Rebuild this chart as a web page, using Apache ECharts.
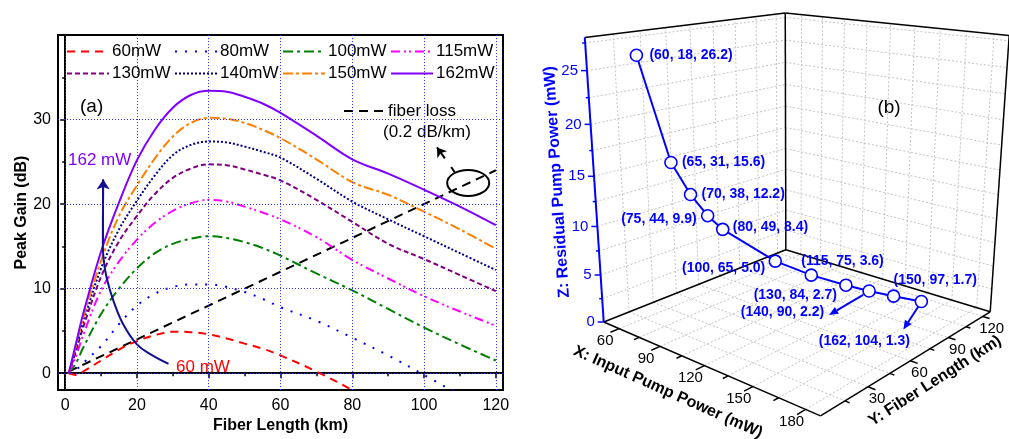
<!DOCTYPE html>
<html>
<head>
<meta charset="utf-8">
<script src="https://cdn.jsdelivr.net/npm/echarts@6/dist/echarts.min.js"></script>
<style>html,body{margin:0;padding:0;background:#fff}#main{width:1009px;height:439px}</style>
</head>
<body>
<div id="main"></div>
<script>
var FONT = '"Liberation Sans", Arial, sans-serif';

// (a) peak gain (dB) vs fiber length (km)
var km      = [1, 3, 5, 10, 15, 20, 25, 30, 35, 40, 45, 50, 55, 60, 70, 80, 90, 100, 110, 120];
var gain60  = [0, -0.2, 0.2, 1.5, 2.8, 3.8, 4.5, 4.9, 4.85, 4.6, 4.1, 3.5, 2.9, 2.1, 0.2, -2.0, -4.5, null, null, null];
var gain80  = [0, 0.4, 1.2, 3.2, 5.8, 8.0, 9.4, 10.2, 10.5, 10.5, 10.2, 9.6, 8.8, 7.8, 6.2, 4.2, 2.1, -0.2, -2.6, null];
var gain100 = [0, 1.2, 3.0, 7.0, 10.0, 12.4, 14.2, 15.3, 15.9, 16.2, 16.0, 15.5, 14.8, 13.9, 11.8, 9.8, 7.6, 5.4, 3.4, 1.5];
var gain115 = [0, 2.0, 4.5, 9.8, 13.2, 15.8, 17.8, 19.2, 20.1, 20.5, 20.3, 19.7, 19.0, 18.2, 16.1, 13.4, 11.2, 9.1, 7.3, 5.6];
var gain130 = [0, 2.6, 5.4, 11.4, 15.6, 18.6, 21.2, 23.1, 24.2, 24.7, 24.6, 24.1, 23.5, 22.8, 20.5, 17.9, 15.3, 13.5, 11.6, 9.7];
var gain140 = [0, 2.9, 6.0, 12.4, 17.0, 20.4, 23.4, 25.8, 27.0, 27.4, 27.3, 26.8, 26.2, 25.5, 23.0, 20.3, 18.2, 16.2, 14.2, 12.2];
var gain150 = [0, 3.2, 6.5, 13.3, 18.6, 22.2, 25.4, 28.0, 29.6, 30.2, 30.1, 29.6, 28.8, 27.8, 25.3, 22.6, 21.1, 19.1, 17.0, 14.7];
var gain162 = [0, 3.5, 7.0, 14.4, 20.2, 25.2, 28.8, 31.4, 32.9, 33.4, 33.3, 32.7, 31.9, 30.8, 28.1, 25.3, 23.6, 21.7, 19.7, 17.5];
var pumpNames = ['60mW', '80mW', '100mW', '115mW', '130mW', '140mW', '150mW', '162mW'];
var lossKm = [1, 120];
var lossDb = [0.2, 24];
var kmTicks = [0, 20, 40, 60, 80, 100, 120];
var kmMinor = [10, 30, 50, 70, 90, 110];
var dbTicks = [0, 10, 20, 30];
var dbMinor = [5, 15, 25, 35];
var arrowPath = [[28.8, 1.1], [23.7, 2.25], [20.0, 3.4], [16.2, 5.75], [13.5, 8.5], [11.6, 11.2], [10.7, 13.5], [10.5, 15.5], [10.6, 22.9]];

// (b) residual pump power
var xPump = [60, 65, 70, 75, 80, 100, 115, 130, 140, 150, 162];
var yLen  = [18, 31, 38, 44, 49, 65, 75, 84, 90, 97, 104];
var zRes  = [26.2, 15.6, 12.2, 9.9, 8.4, 5.0, 3.6, 2.7, 2.2, 1.7, 1.3];
var xTicks = [60, 90, 120, 150, 180];
var yTicks = [30, 60, 90, 120];
var zTicks = [0, 5, 10, 15, 20, 25];

var curveStyle = [
    {color: '#ff0000', type: [8, 6]},
    {color: '#0000ff', type: [2, 8]},
    {color: '#008000', type: [10, 4, 3, 4]},
    {color: '#ff00ff', type: [9, 4, 2, 3, 2, 4]},
    {color: '#800080', type: [5, 3]},
    {color: '#000080', type: [2, 2]},
    {color: '#ff8000', type: [10, 3, 3, 3]},
    {color: '#8000ff', type: 'solid'}
];

// ---- 3d box of panel (b): fit a camera to where box corners, z ticks and points sit in the picture
var xMin = 48, xMax = 188, yMin = 0, yMax = 127, zMin = 0, zMax = 28;
var fitPts = [
    [48, 0, 0, 603, 320], [188, 0, 0, 823, 413], [188, 127, 0, 993, 307], [48, 127, 0, 786, 245],
    [48, 0, 28, 584, 37], [48, 127, 28, 787, 14], [188, 127, 28, 1007, 33],
    [48, 0, 5, 600, 275], [48, 0, 10, 597, 226], [48, 0, 15, 594, 174], [48, 0, 20, 591, 123], [48, 0, 25, 587, 69]
];
var seenAt = [[637, 56], [672, 164], [691, 196], [708, 218], [722, 232], [775, 263], [810, 277], [846, 288], [868, 293], [893, 299], [920, 303]];
seenAt.forEach(function (s, i) { fitPts.push([xPump[i], yLen[i], zRes[i], s[0], s[1]]); });

function solveCamera(pts) {
    var A = [], b = [];
    pts.forEach(function (p) {
        var X = (p[0] - xMin) / (xMax - xMin), Y = (p[1] - yMin) / (yMax - yMin), Z = (p[2] - zMin) / (zMax - zMin);
        var s = (p[3] - 800) / 200, t = (p[4] - 200) / 200;
        A.push([X, Y, Z, 1, 0, 0, 0, 0, -s * X, -s * Y, -s * Z]); b.push(s);
        A.push([0, 0, 0, 0, X, Y, Z, 1, -t * X, -t * Y, -t * Z]); b.push(t);
    });
    var n = 11, M = [];
    for (var i = 0; i < n; i++) {
        M.push([]);
        for (var j = 0; j <= n; j++) {
            var s = 0;
            for (var k = 0; k < A.length; k++) s += A[k][i] * (j < n ? A[k][j] : b[k]);
            M[i].push(s);
        }
    }
    for (var c = 0; c < n; c++) {
        var piv = c;
        for (var r = c + 1; r < n; r++) if (Math.abs(M[r][c]) > Math.abs(M[piv][c])) piv = r;
        var tmp = M[c]; M[c] = M[piv]; M[piv] = tmp;
        for (var r2 = 0; r2 < n; r2++) {
            if (r2 === c) continue;
            var f = M[r2][c] / M[c][c];
            for (var j2 = c; j2 <= n; j2++) M[r2][j2] -= f * M[c][j2];
        }
    }
    return M.map(function (row, i) { return row[n] / row[i]; });
}
var cam = solveCamera(fitPts);
function proj(x, y, z) {
    var X = (x - xMin) / (xMax - xMin), Y = (y - yMin) / (yMax - yMin), Z = (z - zMin) / (zMax - zMin);
    var w = cam[8] * X + cam[9] * Y + cam[10] * Z + 1;
    return [(cam[0] * X + cam[1] * Y + cam[2] * Z + cam[3]) / w * 200 + 800,
            (cam[4] * X + cam[5] * Y + cam[6] * Z + cam[7]) / w * 200 + 200];
}

// label placement of the 3d points (offset from the point, px)
var tagPlace = [
    [13, 0, 'left'], [11, 0, 'left'], [11, 0, 'left'], [-11, 3, 'right'], [10, -2, 'left'],
    [-10, 7, 'right'], [-10, -14, 'left'], [-9, 10, 'right'], [-45, 21, 'right'], [0, -16, 'left'], [-57, 40, 'center']
];
var tagArrow = {8: [-6, 4, -40, 24], 10: [-3, 5, -18, 28]};

var chart = echarts.init(document.getElementById('main'));

var series = [];
series.push({
    type: 'line', name: 'grid', data: [], z: 1, silent: true,
    markLine: {
        silent: true, symbol: ['none', 'none'], label: {show: false}, animation: false,
        lineStyle: {color: '#2828ff', width: 1, type: [1, 2]},
        data: kmTicks.map(function (v) { return {xAxis: v}; }).concat(dbTicks.map(function (v) { return {yAxis: v}; }))
    }
});
series.push({
    type: 'line', name: 'fiber loss', data: lossKm.map(function (k, i) { return [k, lossDb[i]]; }),
    showSymbol: false, symbol: 'none', lineStyle: {color: '#000', width: 2, type: [9, 6]}, z: 2
});
[gain60, gain80, gain100, gain115, gain130, gain140, gain150, gain162].forEach(function (g, i) {
    series.push({
        type: 'line', name: pumpNames[i],
        data: km.map(function (k, j) { return [k, g[j]]; }),
        showSymbol: false, symbol: 'none', smooth: 0.35, z: 3,
        lineStyle: {color: curveStyle[i].color, width: 2, type: curveStyle[i].type},
        itemStyle: {color: curveStyle[i].color}
    });
});
series.push({
    type: 'line', name: 'arrow', data: arrowPath, smooth: 0.4, showSymbol: false, symbol: 'none', z: 4,
    lineStyle: {color: '#101090', width: 2}
});
series.push({
    type: 'lines', coordinateSystem: 'cartesian2d', z: 4, silent: true,
    symbol: ['none', 'arrow'], symbolSize: 10,
    lineStyle: {color: '#101090', width: 2, opacity: 1},
    data: [{coords: [arrowPath[arrowPath.length - 2], arrowPath[arrowPath.length - 1]]}]
});
series.push({
    type: 'lines', coordinateSystem: 'cartesian2d', z: 4, silent: true,
    symbol: ['none', 'arrow'], symbolSize: 9,
    lineStyle: {color: '#000', width: 2, opacity: 1},
    data: [{coords: [[105.8, 25.4], [103.6, 26.7]]}]
});
series.push({
    type: 'custom', coordinateSystem: 'none', z: 10, silent: true,
    data: xPump.map(function (x, i) { return [x, yLen[i], zRes[i]]; }),
    renderItem: function (params, api) {
        var i = params.dataIndex;
        var p = proj(api.value(0), api.value(1), api.value(2));
        var kids = [];
        if (i > 0) {
            var q = proj(xPump[i - 1], yLen[i - 1], zRes[i - 1]);
            kids.push({type: 'line', z2: 1, shape: {x1: q[0], y1: q[1], x2: p[0], y2: p[1]}, style: {stroke: '#0000ff', lineWidth: 2}});
        }
        kids.push({type: 'circle', z2: 5, shape: {cx: p[0], cy: p[1], r: 6}, style: {fill: '#fff', stroke: '#0000ff', lineWidth: 1.6}});
        var tp = tagPlace[i];
        var txt = '(' + api.value(0) + ', ' + api.value(1) + ', ' + api.value(2).toFixed(1) + ')';
        kids.push({type: 'text', z2: 6, x: p[0] + tp[0], y: p[1] + tp[1],
            style: {text: txt, fill: '#0000ff', font: 'bold 14px ' + FONT, align: tp[2], verticalAlign: 'middle'}});
        var ar = tagArrow[i];
        if (ar) {
            var x1 = p[0] + ar[0], y1 = p[1] + ar[1], x2 = p[0] + ar[2], y2 = p[1] + ar[3];
            var ang = Math.atan2(y2 - y1, x2 - x1), L = 9, W = 4;
            var bx = x2 - L * Math.cos(ang), by = y2 - L * Math.sin(ang);
            kids.push({type: 'line', z2: 4, shape: {x1: x1, y1: y1, x2: bx, y2: by}, style: {stroke: '#0000ff', lineWidth: 2}});
            kids.push({type: 'polygon', z2: 4, shape: {points: [[x2, y2],
                [bx + W * Math.sin(ang), by - W * Math.cos(ang)], [bx - W * Math.sin(ang), by + W * Math.cos(ang)]]},
                style: {fill: '#0000ff'}});
        }
        return {type: 'group', children: kids};
    }
});

var legends = [0, 1, 2, 3].map(function (c) {
    return {
        orient: 'vertical', left: 66 + c * 108, top: 43, padding: 0,
        itemWidth: 42, itemHeight: 12, itemGap: 5, selectedMode: false,
        itemStyle: {opacity: 0},
        data: [pumpNames[c], pumpNames[c + 4]],
        textStyle: {fontSize: 17, color: '#000', fontFamily: FONT, padding: [0, 0, 0, -2]}
    };
});

var axisCommon = {
    type: 'value', min: -2, axisLine: {show: true, lineStyle: {color: '#000', width: 2}},
    splitLine: {show: false}, nameLocation: 'middle',
    nameTextStyle: {fontSize: 16, fontWeight: 'bold', color: '#000', fontFamily: FONT}
};

chart.setOption({
    animation: false,
    backgroundColor: '#fff',
    textStyle: {fontFamily: FONT},
    legend: legends,
    grid: {left: 58, top: 35, width: 445, height: 358, show: true, borderColor: '#000', borderWidth: 2},
    xAxis: [
        Object.assign({}, axisCommon, {
            max: 122, name: 'Fiber Length (km)', nameGap: 26,
            axisTick: {customValues: kmTicks, length: 5, lineStyle: {color: '#000', width: 1.5}},
            axisLabel: {customValues: kmTicks, fontSize: 16, color: '#000', margin: 7}
        }),
        Object.assign({}, axisCommon, {
            max: 122, position: 'bottom', axisLine: {show: false},
            axisTick: {customValues: kmMinor, length: 3, lineStyle: {color: '#000', width: 1.5}},
            axisLabel: {show: false}
        })
    ],
    yAxis: [
        Object.assign({}, axisCommon, {
            max: 40, name: 'Peak Gain (dB)', nameGap: 27,
            axisTick: {customValues: dbTicks, length: 5, lineStyle: {color: '#000', width: 1.5}},
            axisLabel: {customValues: dbTicks, fontSize: 16, color: '#000', margin: 7}
        }),
        Object.assign({}, axisCommon, {
            max: 40, position: 'left', axisLine: {show: false},
            axisTick: {customValues: dbMinor, length: 3, lineStyle: {color: '#000', width: 1.5}},
            axisLabel: {show: false}
        })
    ],
    series: series
});

// ---- annotations and the 3d frame
var els = [];
function txt(x, y, s, font, fill, align, rot) {
    els.push({type: 'text', x: x, y: y, rotation: rot || 0, silent: true,
        style: {text: s, font: font, fill: fill || '#000', align: align || 'left', verticalAlign: 'middle',
            textAlign: align || 'left', textVerticalAlign: 'middle'}});
}
function seg(p, q, style, z) {
    els.push({type: 'line', silent: true, z: z || 0, shape: {x1: p[0], y1: p[1], x2: q[0], y2: q[1]}, style: style});
}
function seg3(a, b, style, z) { seg(proj(a[0], a[1], a[2]), proj(b[0], b[1], b[2]), style, z); }

txt(80, 107, '(a)', '19px ' + FONT);
txt(68, 160, '162 mW', '17px ' + FONT, '#8000ff');
txt(176, 367, '60 mW', '17px ' + FONT, '#ff0000');
seg([344, 111], [384, 111], {stroke: '#000', lineWidth: 2, lineDash: [9, 6]});
txt(388, 111, 'fiber loss', '17px ' + FONT);
txt(383, 132, '(0.2 dB/km)', '17px ' + FONT);
var ec = chart.convertToPixel({gridIndex: 0}, [112.3, 22.5]);
els.push({type: 'ellipse', silent: true, shape: {cx: ec[0], cy: ec[1], rx: 21, ry: 13}, style: {fill: 'none', stroke: '#000', lineWidth: 2}});
seg([ec[0] - 17, ec[1] - 16], [ec[0] - 13, ec[1] - 10], {stroke: '#000', lineWidth: 2});

// panel (b) grid lines
var gs = {stroke: '#c4c4c4', lineWidth: 1, lineDash: [2, 2]};
for (var gx = 60; gx <= 180; gx += 15) {
    seg3([gx, yMin, 0], [gx, yMax, 0], gs);
    seg3([gx, yMax, 0], [gx, yMax, zMax], gs);
}
for (var gy = 15; gy <= 120; gy += 15) {
    seg3([xMin, gy, 0], [xMax, gy, 0], gs);
    seg3([xMin, gy, 0], [xMin, gy, zMax], gs);
}
for (var gz = 2.5; gz < zMax; gz += 2.5) {
    seg3([xMin, yMin, gz], [xMin, yMax, gz], gs);
    seg3([xMin, yMax, gz], [xMax, yMax, gz], gs);
}
// box edges
var bs = {stroke: '#000', lineWidth: 1.5};
seg3([xMin, yMin, 0], [xMax, yMin, 0], bs, 1);
seg3([xMax, yMin, 0], [xMax, yMax, 0], bs, 1);
seg3([xMax, yMax, 0], [xMin, yMax, 0], bs, 1);
seg3([xMin, yMax, 0], [xMin, yMin, 0], bs, 1);
seg3([xMin, yMax, 0], [xMin, yMax, zMax], bs, 1);
seg3([xMax, yMax, 0], [xMax, yMax, zMax], bs, 1);
seg3([xMin, yMin, zMax], [xMin, yMax, zMax], bs, 1);
seg3([xMin, yMax, zMax], [xMax, yMax, zMax], bs, 1);
seg3([xMin, yMin, 0], [xMin, yMin, zMax], {stroke: '#0000ff', lineWidth: 2}, 2);
// ticks and labels
var ts = {stroke: '#000', lineWidth: 1.5};
for (var tx = 60; tx <= 180; tx += 15) {
    var major = xTicks.indexOf(tx) >= 0;
    seg3([tx, 0, 0], [tx, major ? -5 : -3, 0], ts, 1);
}
xTicks.forEach(function (v) {
    var p = proj(v, 0, 0);
    txt(p[0] - 14, p[1] + 12, String(v), '15px ' + FONT, '#000', 'center');
});
for (var ty = 15; ty <= 120; ty += 15) {
    var majorY = yTicks.indexOf(ty) >= 0;
    seg3([xMax, ty, 0], [xMax + (majorY ? 4 : 2.5), ty, 0], ts, 1);
}
yTicks.forEach(function (v) {
    var p = proj(xMax, v, 0);
    txt(p[0] + 9, p[1] + 12, String(v), '15px ' + FONT, '#000', 'center');
});
for (var tz = 0; tz < zMax; tz += 2.5) {
    var p = proj(xMin, 0, tz);
    var majorZ = zTicks.indexOf(tz) >= 0;
    seg(p, [p[0] - (majorZ ? 6 : 3), p[1]], {stroke: '#0000ff', lineWidth: 1.5}, 2);
}
zTicks.forEach(function (v) {
    var p = proj(xMin, 0, v);
    txt(p[0] - 9, p[1], String(v), '15px ' + FONT, '#0000ff', 'right');
});
txt(557, 182, 'Z: Residual Pump Power (mW)', 'bold 16px ' + FONT, '#0000ff', 'center', Math.PI / 2 + 0.065);
txt(668, 392, 'X: Input Pump Power (mW)', 'bold 16px ' + FONT, '#000', 'center', -0.42);
txt(935, 381, 'Y: Fiber Length (km)', 'bold 16px ' + FONT, '#000', 'center', 0.57);
txt(889, 108, '(b)', '19px ' + FONT, '#000', 'center');

chart.setOption({graphic: {elements: els}});
</script>
</body>
</html>
